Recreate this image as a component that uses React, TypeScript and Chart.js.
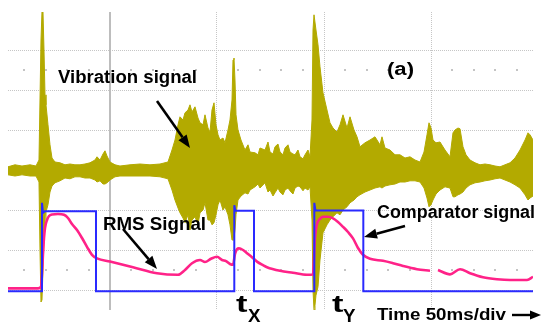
import React, { useEffect, useRef } from "react";
import { Chart, registerables } from "chart.js";

Chart.register(...registerables);

// ---- Data (time in ms, amplitude in screen divisions) ----
const vibTime = [
  2.34, 5.61, 8.88, 12.62, 15.42, 16.82, 17.29, 17.76, 18.22, 18.69,
  19.16, 19.63, 20.09, 21.03, 21.96, 22.9, 24.3, 26.64, 28.97, 31.31,
  33.64, 35.98, 38.32, 40.65, 42.99, 43.93, 45.33, 46.73, 47.66, 48.6,
  50.0, 52.34, 54.67, 59.35, 64.02, 68.69, 73.36, 77.1, 78.97, 80.37,
  81.78, 82.71, 84.11, 85.05, 86.45, 87.38, 88.32, 89.72, 91.12, 92.06,
  93.46, 94.39, 95.79, 96.73, 97.66, 98.6, 99.53, 100.47, 101.4, 102.8,
  103.74, 105.14, 106.07, 107.01, 107.48, 107.94, 108.41, 108.88, 109.81, 111.21,
  113.08, 114.49, 115.42, 117.76, 119.16, 120.09, 122.43, 123.83, 124.77, 126.17,
  127.1, 128.5, 129.44, 130.84, 131.78, 133.18, 134.11, 135.51, 136.45, 137.85,
  138.79, 140.19, 141.12, 142.52, 143.46,
  144.39, 144.86, 145.33, 145.79, 146.26, 147.2, 148.13, 149.53, 151.4, 152.8,
  154.21, 156.07, 157.48, 158.88, 160.75, 162.15, 164.02, 165.42, 166.82, 169.16,
  171.5, 173.83, 176.17, 177.1, 178.5, 180.84, 183.18, 185.51, 187.85, 190.19,
  192.52, 194.86, 196.73, 198.13, 199.07, 200.0, 200.93, 202.34, 204.21, 206.54,
  208.88, 210.28, 211.21, 212.62, 213.55, 214.95, 216.36, 218.22, 220.56, 222.9,
  225.23, 227.57, 229.91, 232.24, 234.58, 236.92, 239.25, 241.59, 243.93, 245.33,
  246.26, 247.66,
];
const vibUpper = [
  3.08, 3.13, 3.1, 3.13, 3.1, 3.25, 4.75, 6.25, 6.95, 6.95,
  6.0, 4.88, 4.63, 4.13, 3.63, 3.3, 3.2, 3.18, 3.13, 3.15,
  3.13, 3.13, 3.15, 3.18, 3.25, 3.33, 3.25, 3.4, 3.48, 3.35,
  3.2, 3.13, 3.1, 3.13, 3.15, 3.13, 3.15, 3.2, 3.5, 3.75,
  4.13, 4.33, 4.25, 4.43, 4.5, 4.63, 4.45, 4.58, 4.3, 4.18,
  4.13, 4.38, 4.05, 3.95, 4.5, 4.68, 4.13, 3.88, 3.75, 3.8,
  3.68, 4.0, 4.25, 4.75, 5.75, 5.8, 5.25, 4.38, 4.0, 3.75,
  3.5, 3.63, 3.45, 3.43, 3.38, 3.55, 3.5, 3.7, 3.45, 3.4,
  3.58, 3.65, 3.45, 3.38, 3.55, 3.63, 3.45, 3.4, 3.38, 3.5,
  3.33, 3.28, 3.38, 3.5, 3.33,
  4.25, 6.5, 6.88, 6.88, 6.5, 6.13, 5.58, 4.93, 4.5, 4.18,
  4.05, 3.95, 4.13, 4.38, 4.05, 4.33, 4.0, 3.83, 3.58, 3.68,
  3.75, 3.83, 3.63, 3.83, 3.55, 3.5, 3.38, 3.38, 3.3, 3.33,
  3.25, 3.2, 3.45, 3.88, 4.18, 4.05, 3.75, 3.68, 3.7, 3.5,
  3.33, 3.93, 4.0, 4.05, 4.03, 3.58, 3.38, 3.25, 3.18, 3.13,
  3.15, 3.13, 3.1, 3.08, 3.13, 3.18, 3.3, 3.5, 3.75, 3.93,
  3.88, 3.75,
];
const vibLower = [
  2.88, 2.85, 2.88, 2.85, 2.85, 2.7, 1.0, -0.3, -0.25, 0.5,
  1.25, 1.63, 1.95, 2.13, 2.45, 2.6, 2.68, 2.73, 2.8, 2.78,
  2.83, 2.83, 2.8, 2.8, 2.75, 2.7, 2.73, 2.65, 2.65, 2.68,
  2.75, 2.83, 2.85, 2.85, 2.85, 2.85, 2.83, 2.78, 2.5, 2.25,
  2.05, 1.93, 1.8, 1.68, 1.88, 1.5, 1.75, 1.83, 1.63, 1.93,
  2.0, 2.18, 1.75, 1.75, 1.63, 1.68, 1.88, 2.13, 2.25, 2.0,
  2.08, 1.88, 1.63, 1.25, 1.25, 1.3, 1.5, 1.88, 2.25, 2.35,
  2.43, 2.4, 2.5, 2.58, 2.65, 2.55, 2.68, 2.45, 2.5, 2.35,
  2.43, 2.55, 2.45, 2.38, 2.5, 2.55, 2.48, 2.4, 2.55, 2.6,
  2.58, 2.48, 2.55, 2.5, 2.58,
  1.75, 0.0, -0.5, -0.38, -0.13, 0.08, 0.75, 1.43, 1.63, 1.75,
  1.83, 1.93, 1.88, 2.0, 2.08, 2.18, 2.25, 2.33, 2.38, 2.45,
  2.5, 2.55, 2.58, 2.55, 2.6, 2.63, 2.65, 2.7, 2.7, 2.73,
  2.73, 2.7, 2.55, 2.3, 2.08, 2.13, 2.25, 2.4, 2.5, 2.58,
  2.55, 2.33, 2.33, 2.38, 2.4, 2.45, 2.55, 2.63, 2.68, 2.7,
  2.73, 2.75, 2.78, 2.8, 2.75, 2.7, 2.63, 2.55, 2.38, 2.25,
  2.3, 2.35,
];

const rmsTime = [
  2.34, 16.36, 17.76, 18.22, 18.69, 19.16, 19.63, 20.56, 21.5, 22.9,
  25.7, 28.5, 30.37, 32.24, 34.58, 36.92, 39.25, 41.59, 43.93, 50.0,
  60.75, 71.96, 81.78, 85.05, 88.32, 92.06, 94.39, 97.2, 100.0, 102.34,
  104.21, 106.07, 107.48, 108.41, 109.35, 110.28, 112.15, 114.02, 116.36, 118.69,
  121.5, 123.36, 129.44, 135.51, 142.06, 144.86, 145.33, 145.79, 146.73, 148.13,
  149.53, 151.87, 154.21, 156.54, 158.88, 161.21, 163.55, 165.89, 168.22, 171.5,
  177.57, 182.24, 186.92, 193.46, 199.53, 201.5, 203.27, 208.88, 213.55, 218.22,
  224.3, 230.84, 236.92, 244.86, 247.66,
];
const rmsLevel = [
  0.04, 0.04, 0.08, 0.4, 0.9, 1.3, 1.55, 1.75, 1.85, 1.89,
  1.9, 1.88, 1.8, 1.65, 1.5, 1.3, 1.08, 0.88, 0.79, 0.71,
  0.57, 0.42, 0.38, 0.5, 0.67, 0.75, 0.7, 0.78, 0.83, 0.75,
  0.72, 0.65, 0.63, 0.9, 1.02, 1.04, 1.0, 0.92, 0.82, 0.71,
  0.62, 0.57, 0.48, 0.43, 0.38, 0.39, 0.8, 1.3, 1.65, 1.78,
  1.83, 1.83, 1.79, 1.7, 1.58, 1.45, 1.29, 1.05, 0.88, 0.78,
  0.73, 0.67, 0.6, 0.52, 0.48, null, 0.5, 0.39, 0.52, 0.42,
  0.32, 0.27, 0.25, 0.25, 0.33,
];

const compTime = [
  2.34, 18.22, 18.22, 18.7, 19.6, 43.46, 43.46, 108.08, 108.08, 108.6,
  117.29, 117.29, 145.47, 145.47, 146.0, 168.37, 168.37, 247.66,
];
const compLevel = [
  -0.03, -0.03, 2.18, 1.93, 1.97, 1.97, -0.03, -0.03, 2.12, 1.98,
  1.98, -0.03, -0.03, 2.18, 1.99, 1.99, -0.03, -0.03,
];

const gridTimes = [50, 100, 150, 200];
const gridLevels = [0, 1, 2, 3, 4, 5, 6];
const centreTime = 50;
const minorTimes = [10, 20, 30, 40, 60, 70, 80, 90, 110, 120, 130, 140, 160, 170, 180, 190, 210, 220, 230, 240];
const minorLevels = [0.5, 5.5];

const labelVibration = "Vibration signal";
const labelRms = "RMS Signal";
const labelComparator = "Comparator signal";
const labelPanel = "(a)";
const labelTime = "Time 50ms/div";

const OLIVE = "#b3aa00";
const PINK = "#ff2288";
const BLUE = "#2a2aff";
const FONT = '"Liberation Sans", Arial, Helvetica, sans-serif';

function zip(xs: number[], ys: (number | null)[]) {
  return xs.map((x, i) => ({ x, y: ys[i] }));
}

function stretchText(ctx: CanvasRenderingContext2D, text: string, left: number, baseline: number, size: number, width: number) {
  ctx.save();
  ctx.font = `bold ${size}px ${FONT}`;
  const w = ctx.measureText(text).width;
  ctx.translate(left, baseline);
  ctx.scale(width / w, 1);
  ctx.textBaseline = "alphabetic";
  ctx.textAlign = "left";
  ctx.fillStyle = "#000";
  ctx.fillText(text, 0, 0);
  ctx.restore();
}

function arrow(ctx: CanvasRenderingContext2D, x1: number, y1: number, x2: number, y2: number, head = 13, half = 5, lw = 2.6) {
  const ang = Math.atan2(y2 - y1, x2 - x1);
  const bx = x2 - head * Math.cos(ang);
  const by = y2 - head * Math.sin(ang);
  ctx.save();
  ctx.strokeStyle = "#000";
  ctx.fillStyle = "#000";
  ctx.lineWidth = lw;
  ctx.beginPath();
  ctx.moveTo(x1, y1);
  ctx.lineTo(bx, by);
  ctx.stroke();
  ctx.beginPath();
  ctx.moveTo(x2, y2);
  ctx.lineTo(bx + half * Math.sin(ang), by - half * Math.cos(ang));
  ctx.lineTo(bx - half * Math.sin(ang), by + half * Math.cos(ang));
  ctx.closePath();
  ctx.fill();
  ctx.restore();
}

const overlay = {
  id: "scopeOverlay",
  beforeDatasetsDraw(chart: any) {
    const { ctx, chartArea, scales } = chart;
    const xs = scales.x;
    const ys = scales.y;
    ctx.save();
    const cx = Math.round(xs.getPixelForValue(centreTime));
    ctx.strokeStyle = "#bdbdbd";
    ctx.lineWidth = 2;
    ctx.beginPath();
    ctx.moveTo(cx, chartArea.top);
    ctx.lineTo(cx, chartArea.bottom);
    ctx.stroke();
    ctx.fillStyle = "#c4c4c4";
    for (const lv of minorLevels) {
      for (const t of minorTimes) {
        const px = Math.round(xs.getPixelForValue(t));
        const py = Math.round(ys.getPixelForValue(lv));
        ctx.fillRect(px - 1, py - 1, 2, 2);
      }
    }
    ctx.restore();
  },
  afterDatasetsDraw(chart: any) {
    const ctx = chart.ctx as CanvasRenderingContext2D;
    stretchText(ctx, labelVibration, 58, 83.3, 17.5, 139);
    stretchText(ctx, labelPanel, 387, 75, 17.5, 27);
    stretchText(ctx, labelRms, 103, 229.5, 17.5, 103);
    stretchText(ctx, labelComparator, 377, 218, 17.5, 158);
    stretchText(ctx, labelTime, 377, 320, 17, 129);
    stretchText(ctx, "t", 236, 311.7, 24, 11.5);
    stretchText(ctx, "X", 248, 321.5, 18.7, 12.5);
    stretchText(ctx, "t", 332, 311.7, 24, 11.5);
    stretchText(ctx, "Y", 343, 321.5, 18.7, 12.5);
    arrow(ctx, 157, 101, 190, 148);
    arrow(ctx, 123, 229, 157, 269);
    arrow(ctx, 405, 226, 364, 237);
    arrow(ctx, 512, 315, 541, 315, 11, 4.5, 2.4);
  },
};

export default function App() {
  const ref = useRef<HTMLCanvasElement>(null);
  useEffect(() => {
    const chart = new Chart(ref.current as HTMLCanvasElement, {
      type: "line",
      data: {
        datasets: [
          {
            label: "Comparator signal",
            data: zip(compTime, compLevel),
            borderColor: BLUE,
            borderWidth: 2,
            pointRadius: 0,
            tension: 0,
            fill: false,
          },
          {
            label: "RMS Signal",
            data: zip(rmsTime, rmsLevel),
            borderColor: PINK,
            borderWidth: 2.6,
            pointRadius: 0,
            cubicInterpolationMode: "monotone",
            fill: false,
            spanGaps: false,
          },
          {
            label: "Vibration upper",
            data: zip(vibTime, vibUpper),
            borderColor: OLIVE,
            backgroundColor: OLIVE,
            borderWidth: 1,
            pointRadius: 0,
            tension: 0,
            fill: "+1",
          },
          {
            label: "Vibration lower",
            data: zip(vibTime, vibLower),
            borderColor: OLIVE,
            borderWidth: 1,
            pointRadius: 0,
            tension: 0,
            fill: false,
          },
        ] as any,
      },
      options: {
        responsive: false,
        animation: false,
        devicePixelRatio: 1,
        layout: { padding: { left: 8, right: 9, top: 12, bottom: 14 } },
        plugins: { legend: { display: false }, tooltip: { enabled: false } },
        scales: {
          x: {
            type: "linear",
            min: 2.34,
            max: 247.66,
            afterBuildTicks: (s: any) => {
              s.ticks = gridTimes.map((v) => ({ value: v }));
            },
            ticks: { display: false },
            grid: { color: "#c6c6c6", lineWidth: 1, drawTicks: false },
            border: { display: false, dash: [1, 1] },
          },
          y: {
            type: "linear",
            min: -0.5,
            max: 6.95,
            afterBuildTicks: (s: any) => {
              s.ticks = gridLevels.map((v) => ({ value: v }));
            },
            ticks: { display: false },
            grid: { color: "#c6c6c6", lineWidth: 1, drawTicks: false },
            border: { display: false, dash: [1, 1] },
          },
        },
      } as any,
      plugins: [overlay],
    });
    return () => chart.destroy();
  }, []);
  return (
    <div style={{ position: "absolute", left: 0, top: 0, width: 542, height: 324, background: "#fff" }}>
      <canvas ref={ref} width={542} height={324} style={{ display: "block", width: 542, height: 324 }} />
    </div>
  );
}
